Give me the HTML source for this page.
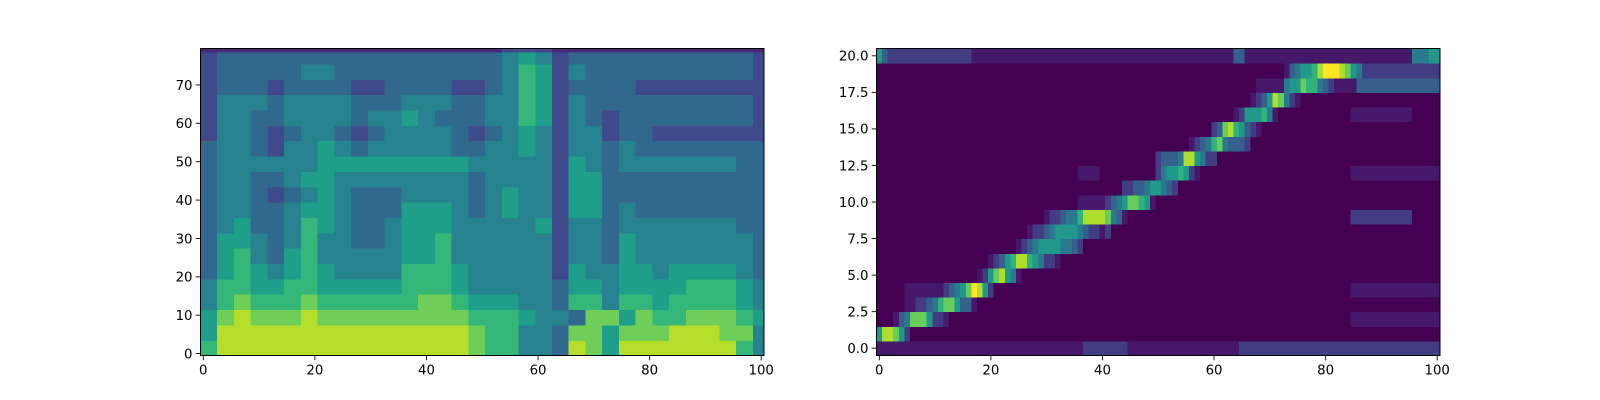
<!DOCTYPE html>
<html><head><meta charset="utf-8"><style>
html,body{margin:0;padding:0;background:#fff;}
svg{display:block;}
text{font-family:"DejaVu Sans","Liberation Sans",sans-serif;font-size:13.3px;fill:#000;}
</style></head><body>
<svg id="fig" width="1600" height="400" viewBox="0 0 1600 400" xmlns="http://www.w3.org/2000/svg">
<g id="left"></g>
<g id="right"></g>
</svg>
<script>
// Mel spectrogram: bands of 4 mel bins (bottom->top), 34 column groups of 3 frames, values 0-9
const melBands = [
"6888888888888888766443875888888864",
"5888888888888888766443775777888774",
"5787778777777777666544377576677765",
"4676667666666776555443664665666654",
"4665566555556665444443554555566654",
"3565456544446665444442544554555543",
"3564356444445564444442443544444443",
"3554346443345564444442443544444443",
"3453346543345554444452443444444433",
"3443345543335554345442553433333333",
"3443234543334444345442553333333333",
"3443345544444444344442553333333333",
"3444444555555555444442543444444433",
"3443244543444443344542443433333333",
"2443234432344443234542442332222222",
"2443344443445433344652432333333332",
"2444344443334443344652433333333332",
"2333233332233332234652333322222222",
"2333334433333333334652433333333332",
"2333333333333333334542333333333332"
];
const melTopBin = "1111111111111111112221111111111111";
const melFramesPerGroup = 3;
const melBinsPerBand = 4;
// Alignment: per token row, background level and runs [startFrame, levels]
const alignBg = [1,0,0,0,0,0,0,0,0,0,0,0,0,0,0,0,0,0,0,0,1];
const alignRuns = [
 [[37,"22222222"],[65,"222222222222222222222222222222222222"]],
 [[0,"588752"]],
 [[3,"1347775221"],[85,"1111111111111111"]],
 [[5,"1122346775331"]],
 [[5,"1111111234579852"],[85,"1111111111111111"]],
 [[18,"12578541"]],
 [[20,"1235688654221"]],
 [[25,"123455554432"]],
 [[27,"122345555432212"]],
 [[30,"122344688887431"],[85,"22222222222"]],
 [[36,"11111234577651"]],
 [[44,"2233455432"]],
 [[36,"1111"],[50,"24556521"],[85,"1111111111111111"]],
 [[50,"23334885422"]],
 [[56,"12346743332"]],
 [[60,"237865321"]],
 [[64,"12555641"],[85,"11111111111"]],
 [[67,"123587421"]],
 [[68,"11111455766432111133333333333333333"]],
 [[73,"1345568999875422222222222222"]],
 [[0,"53222222222222222"],[64,"33"],[96,"44455"]]
];
// level value per digit for alignment (faint digits are dimmer)
const alignLevels = [0,0.6,1.6,2.7,3.7,4.8,5.8,6.9,7.9,9];
const nFrames = 101, nMel = 80, nTok = 21;
const xTicks = [0,20,40,60,80,100];
const melYTicks = [0,10,20,30,40,50,60,70];
const alignYTicks = [0,2.5,5,7.5,10,12.5,15,17.5,20];
const alignYLabels = ["0.0","2.5","5.0","7.5","10.0","12.5","15.0","17.5","20.0"];

const NS = "http://www.w3.org/2000/svg";
const stops = ["#440154","#482878","#3e4a89","#31688e","#26828e","#1f9e89","#35b779","#6ece58","#b5de2b","#fde725"];
function hx(c){return [parseInt(c.slice(1,3),16),parseInt(c.slice(3,5),16),parseInt(c.slice(5,7),16)];}
function viridis(v){ // v 0..9
  v=Math.max(0,Math.min(9,v));const i=Math.min(8,Math.floor(v));const f=v-i;
  const a=hx(stops[i]),b=hx(stops[i+1]);
  return "rgb("+a.map((x,k)=>Math.round(x+(b[k]-x)*f)).join(",")+")";
}
function mk(tag,attrs,parent){const e=document.createElementNS(NS,tag);for(const k in attrs)e.setAttribute(k,attrs[k]);parent.appendChild(e);return e;}

function axes(g,x0,x1,y0,y1,xmin,xmax,ymin,ymax){
  const sx=v=>x0+(v-xmin)/(xmax-xmin)*(x1-x0);
  const sy=v=>y1-(v-ymin)/(ymax-ymin)*(y1-y0);
  return {sx,sy};
}
function drawFrame(g,x0,x1,y0,y1,sx,sy,yt,ylab,prefix){
  const fr=mk("rect",{x:x0,y:y0,width:x1-x0,height:y1-y0,fill:"none",stroke:"#000","stroke-width":1},g);
  
  
  xTicks.forEach(t=>{
    const x=sx(t);
    const l=mk("line",{x1:x,x2:x,y1:y1,y2:y1+4.8,stroke:"#000","stroke-width":0.9},g);
    
    
    const tx=mk("text",{x:x,y:y1+19,"text-anchor":"middle"},g);tx.textContent=t;
    
    
  });
  yt.forEach((t,i)=>{
    const y=sy(t);
    const l=mk("line",{x1:x0-4.8,x2:x0,y1:y,y2:y,stroke:"#000","stroke-width":0.9},g);
    
    
    const tx=mk("text",{x:x0-8,y:y+4.8,"text-anchor":"end"},g);tx.textContent=ylab[i];
    
    
  });
}

// Left panel
(function(){
  const g=document.getElementById("left");
  const x0=200.5,x1=764,y0=48.5,y1=355.5;
  const {sx,sy}=axes(g,x0,x1,y0,y1,-0.5,nFrames-0.5,-0.5,nMel-0.5);
  const cells=mk("g",{"shape-rendering":"crispEdges"},g);
  
  
  melBands.forEach((row,b)=>{
    for(let c=0;c<row.length;c++){
      const v=+row[c];
      const fs=c*melFramesPerGroup, fe=Math.min(nFrames,fs+melFramesPerGroup);
      const bs=b*melBinsPerBand, be=bs+melBinsPerBand;
      const xa=sx(fs-0.5), xb=sx(fe-0.5), ya=sy(be-0.5), yb=sy(bs-0.5);
      const r=mk("rect",{x:xa,y:ya,width:xb-xa+0.6,height:yb-ya+0.6,fill:viridis(v)},cells);
      
      
    }
  });
  for(let c=0;c<melTopBin.length;c++){
    const fs=c*melFramesPerGroup, fe=Math.min(nFrames,fs+melFramesPerGroup);
    const xa=sx(fs-0.5), xb=sx(fe-0.5), ya=sy(nMel-0.5), yb=sy(nMel-1.5);
    const r=mk("rect",{x:xa,y:ya,width:xb-xa+0.6,height:yb-ya,fill:viridis(+melTopBin[c])},cells);
    
    
  }
  drawFrame(g,x0,x1,y0,y1,sx,sy,melYTicks,melYTicks.map(String),"mel");
})();

// Right panel
(function(){
  const g=document.getElementById("right");
  const x0=876.5,x1=1440,y0=48.5,y1=355.5;
  const {sx,sy}=axes(g,x0,x1,y0,y1,-0.5,nFrames-0.5,-0.5,nTok-0.5);
  const cells=mk("g",{"shape-rendering":"crispEdges"},g);
  
  
  for(let t=0;t<nTok;t++){
    const vals=new Array(nFrames).fill(alignBg[t]);
    alignRuns[t].forEach(([s,str])=>{for(let k=0;k<str.length&&s+k<nFrames;k++)vals[s+k]=+str[k];});
    vals.forEach((v,f)=>{
      const xa=sx(f-0.5),xb=sx(f+0.5),ya=sy(t+0.5),yb=sy(t-0.5);
      const r=mk("rect",{x:xa,y:ya,width:xb-xa+0.6,height:yb-ya+0.6,fill:viridis(alignLevels[v])},cells);
      
      
    });
  }
  drawFrame(g,x0,x1,y0,y1,sx,sy,alignYTicks,alignYLabels,"alignment");
})();
</script>
</body></html>
